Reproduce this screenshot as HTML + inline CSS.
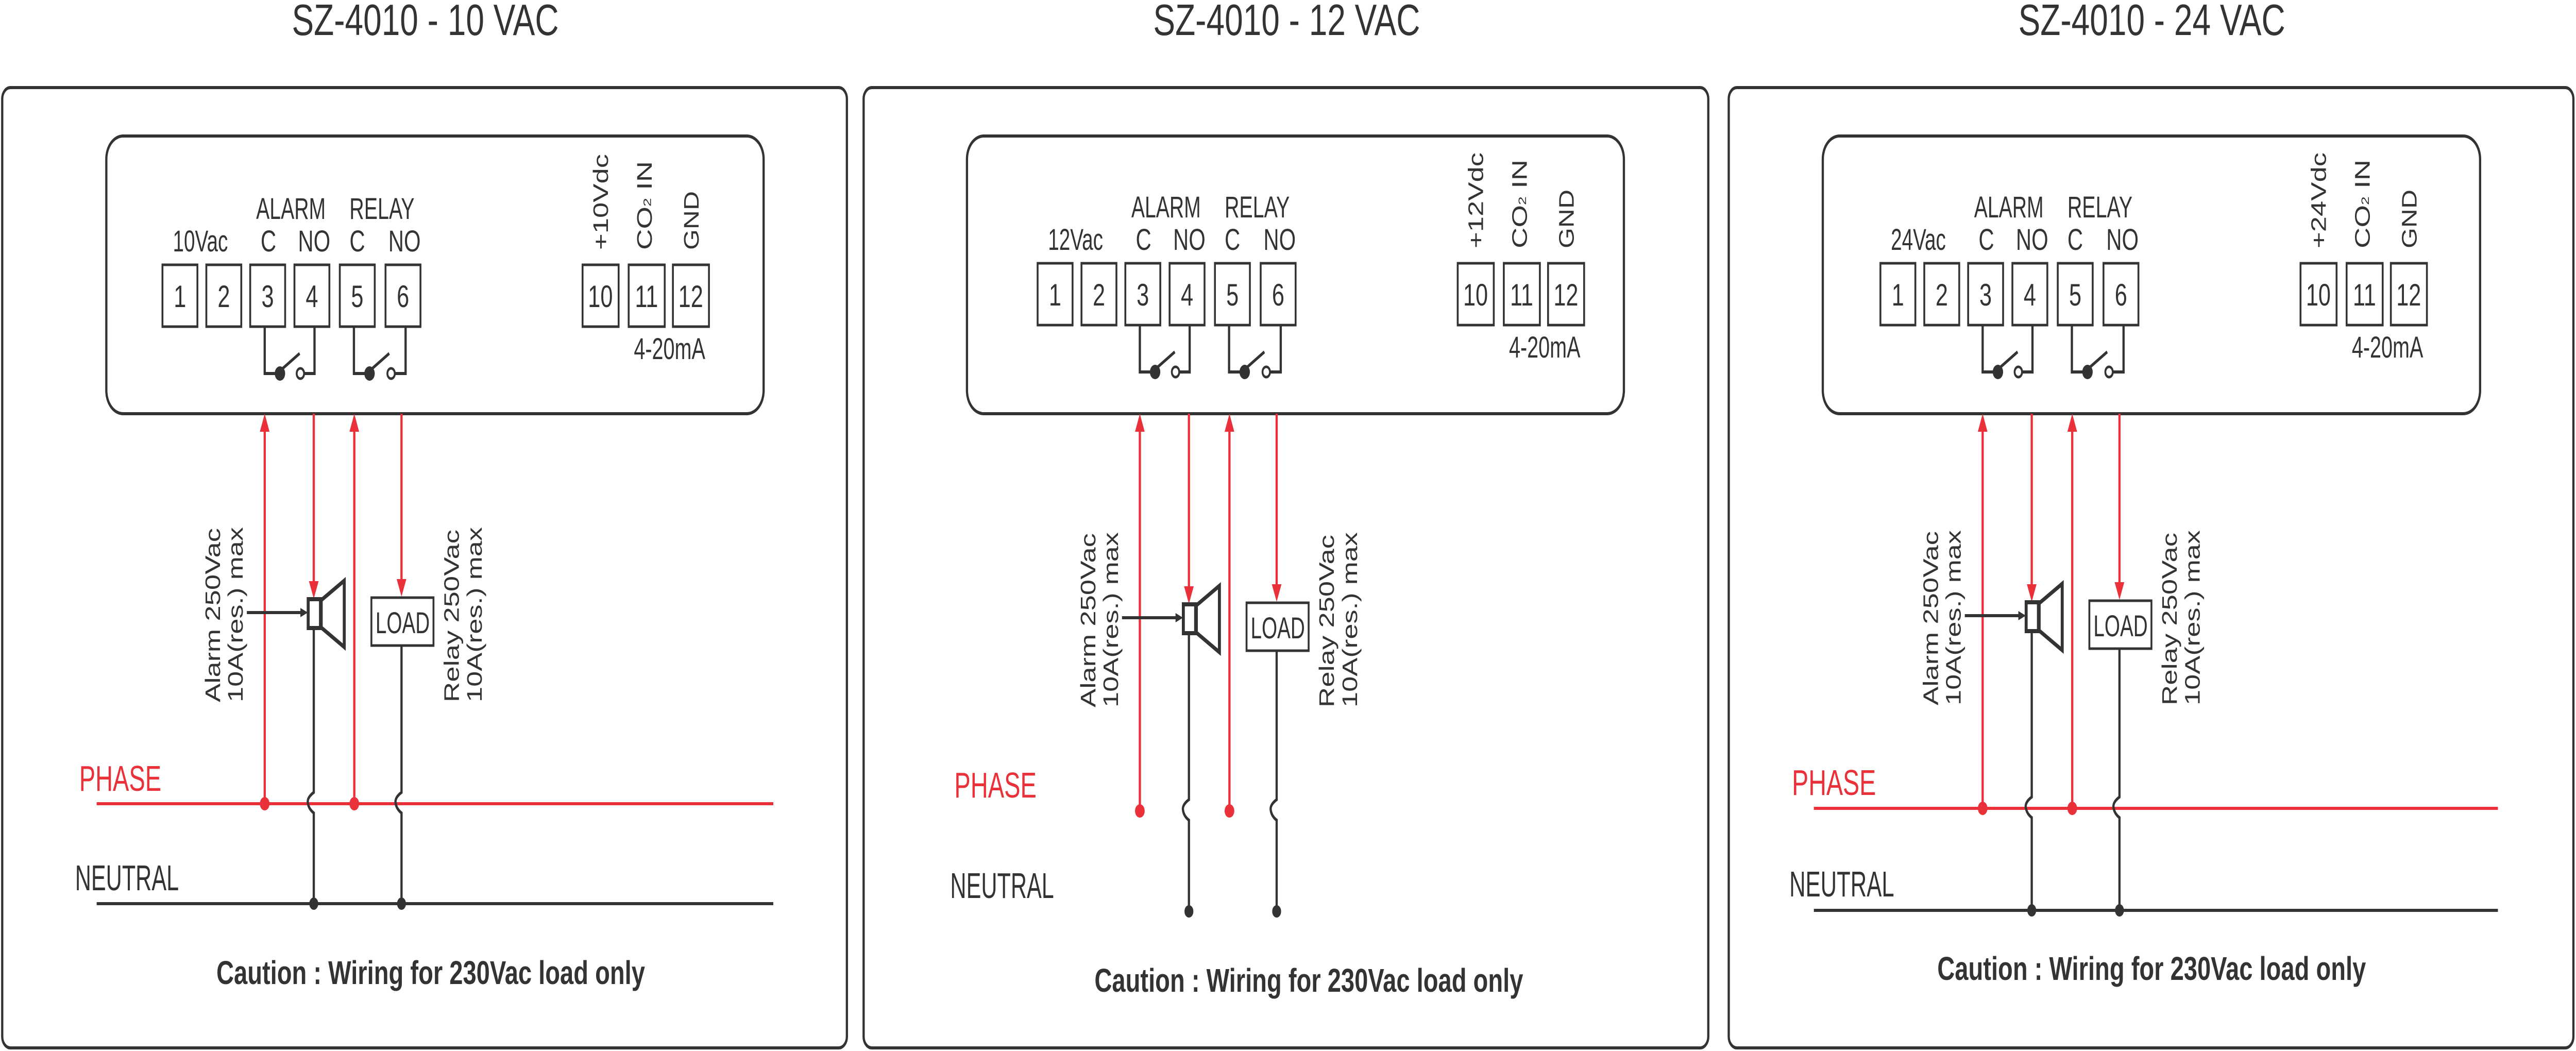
<!DOCTYPE html>
<html><head><meta charset="utf-8">
<style>
html,body{margin:0;padding:0;background:#fff;width:100vw;height:100vh;overflow:hidden;}
svg{display:block;position:absolute;left:0;top:0;width:100vw;height:100vh;}
text{font-family:"Liberation Sans",sans-serif;fill:#333;}
</style></head>
<body>
<svg viewBox="0 0 6929 2040" preserveAspectRatio="none" xmlns="http://www.w3.org/2000/svg">
<defs>
<style>
.bx{fill:none;stroke:#333;stroke-width:6}
.tm{fill:#fff;stroke:#333;stroke-width:5}
.bk{fill:none;stroke:#333;stroke-width:6}
.rd{fill:none;stroke:#ea3038;stroke-width:6}
.n{font-size:60px;text-anchor:middle}
.l{font-size:58px}
.v{font-size:56px}
</style>
</defs>

<!-- ================= PANEL 1 ================= -->
<g>
<rect class="bx" x="6" y="170" width="2272" height="1864" rx="22"/>
<text x="785" y="68" font-size="85" textLength="718" lengthAdjust="spacingAndGlyphs">SZ-4010  - 10 VAC</text>
</g>
<g transform="translate(0,0)">
<rect class="bx" x="286" y="264" width="1768" height="539" rx="45"/>
<rect class="tm" x="437" y="514" width="94" height="120"/><text class="n" x="484" y="596">1</text>
<rect class="tm" x="555" y="514" width="94" height="120"/><text class="n" x="602" y="596">2</text>
<rect class="tm" x="673" y="514" width="94" height="120"/><text class="n" x="720" y="596">3</text>
<rect class="tm" x="792" y="514" width="94" height="120"/><text class="n" x="839" y="596">4</text>
<rect class="tm" x="914" y="514" width="94" height="120"/><text class="n" x="961" y="596">5</text>
<rect class="tm" x="1037" y="514" width="94" height="120"/><text class="n" x="1084" y="596">6</text>
<rect class="tm" x="1567" y="514" width="97" height="120"/><text class="n" x="1615" y="596">10</text>
<rect class="tm" x="1691" y="514" width="97" height="120"/><text class="n" x="1739" y="596">11</text>
<rect class="tm" x="1810" y="514" width="97" height="120"/><text class="n" x="1858" y="596">12</text>
<text class="l" x="465" y="488" textLength="148" lengthAdjust="spacingAndGlyphs">10Vac</text>
<text class="l" x="689" y="425" textLength="187" lengthAdjust="spacingAndGlyphs">ALARM</text>
<text class="l" x="940" y="425" textLength="175" lengthAdjust="spacingAndGlyphs">RELAY</text>
<text class="l" x="722" y="488" text-anchor="middle">C</text>
<text class="l" x="845" y="488" text-anchor="middle">NO</text>
<text class="l" x="961" y="488" text-anchor="middle">C</text>
<text class="l" x="1088" y="488" text-anchor="middle">NO</text>
<text class="v" transform="translate(1635,485) rotate(-90)" textLength="186" lengthAdjust="spacingAndGlyphs">+10Vdc</text>
<text class="v" transform="translate(1753,485) rotate(-90)">CO<tspan font-size="30" dy="-2">2</tspan><tspan dy="2"> IN</tspan></text>
<text class="v" transform="translate(1879,485) rotate(-90)" textLength="114" lengthAdjust="spacingAndGlyphs">GND</text>
<text class="l" x="1705" y="697" textLength="192" lengthAdjust="spacingAndGlyphs">4-20mA</text>
<path class="bk" d="M712 634 V725 H752 M808 725 H846 V634 M756 718 L806 686"/>
<circle cx="753" cy="725" r="14" fill="#333"/><circle cx="808" cy="725" r="10" fill="#fff" stroke="#333" stroke-width="5"/>
<path class="bk" d="M952 634 V725 H993 M1052 725 H1091 V634 M997 718 L1047 686"/>
<circle cx="994" cy="725" r="14" fill="#333"/><circle cx="1052" cy="725" r="10" fill="#fff" stroke="#333" stroke-width="5"/>
</g>
<g transform="translate(0,0)">
<path class="rd" d="M712 830 V1560 M844 803 V1135 M953 830 V1560 M1080 803 V1130"/>
<polygon fill="#ea3038" points="712,803 699,838 725,838"/>
<polygon fill="#ea3038" points="953,803 940,838 966,838"/>
<polygon fill="#ea3038" points="844,1162 831,1128 857,1128"/>
<polygon fill="#ea3038" points="1080,1158 1067,1124 1093,1124"/>
<rect x="829" y="1163" width="33" height="56" fill="#fff" stroke="#333" stroke-width="8"/>
<polygon points="864,1165 926,1127 926,1256 864,1218" fill="none" stroke="#333" stroke-width="8"/>
<rect x="999" y="1160" width="167" height="93" class="tm"/>
<text class="l" x="1010" y="1229" textLength="146" lengthAdjust="spacingAndGlyphs">LOAD</text>
<path class="bk" d="M664 1189 H812"/><polygon fill="#333" points="828,1189 808,1180 808,1198"/>
<text class="v" transform="translate(592,1363) rotate(-90)" textLength="338" lengthAdjust="spacingAndGlyphs">Alarm 250Vac</text>
<text class="v" transform="translate(653,1363) rotate(-90)" textLength="340" lengthAdjust="spacingAndGlyphs">10A(res.) max</text>
<text class="v" transform="translate(1234,1363) rotate(-90)" textLength="335" lengthAdjust="spacingAndGlyphs">Relay 250Vac</text>
<text class="v" transform="translate(1296,1363) rotate(-90)" textLength="340" lengthAdjust="spacingAndGlyphs">10A(res.) max</text>
<path class="rd" d="M260 1560 H2080"/>
<circle cx="712" cy="1560" r="13" fill="#ea3038"/><circle cx="953" cy="1560" r="13" fill="#ea3038"/>
<path class="bk" d="M844 1219 V1538 Q826 1548 828 1558 Q830 1570 844 1578 V1754 M1080 1253 V1538 Q1062 1548 1064 1558 Q1066 1570 1080 1578 V1754"/>
<path class="bk" d="M260 1754 H2080"/>
<circle cx="844" cy="1754" r="12" fill="#333"/><circle cx="1080" cy="1754" r="12" fill="#333"/>
<text x="213" y="1535" font-size="70" style="fill:#ea3038" textLength="221" lengthAdjust="spacingAndGlyphs">PHASE</text>
<text x="202" y="1728" font-size="70" textLength="279" lengthAdjust="spacingAndGlyphs">NEUTRAL</text>
<text x="582" y="1910" font-size="64" font-weight="bold" textLength="1153" lengthAdjust="spacingAndGlyphs">Caution : Wiring for 230Vac load only</text>
</g>

<!-- ================= PANEL 2 ================= -->
<g transform="translate(2317,0)">
<rect class="bx" x="6" y="170" width="2272" height="1864" rx="22"/>
<text x="785" y="68" font-size="85" textLength="718" lengthAdjust="spacingAndGlyphs">SZ-4010  - 12 VAC</text>
</g>
<rect class="bx" x="2601" y="264" width="1767" height="539" rx="45"/>
<g transform="translate(2354,-3)">
<rect class="tm" x="437" y="514" width="94" height="120"/><text class="n" x="484" y="596">1</text>
<rect class="tm" x="555" y="514" width="94" height="120"/><text class="n" x="602" y="596">2</text>
<rect class="tm" x="673" y="514" width="94" height="120"/><text class="n" x="720" y="596">3</text>
<rect class="tm" x="792" y="514" width="94" height="120"/><text class="n" x="839" y="596">4</text>
<rect class="tm" x="914" y="514" width="94" height="120"/><text class="n" x="961" y="596">5</text>
<rect class="tm" x="1037" y="514" width="94" height="120"/><text class="n" x="1084" y="596">6</text>
<rect class="tm" x="1567" y="514" width="97" height="120"/><text class="n" x="1615" y="596">10</text>
<rect class="tm" x="1691" y="514" width="97" height="120"/><text class="n" x="1739" y="596">11</text>
<rect class="tm" x="1810" y="514" width="97" height="120"/><text class="n" x="1858" y="596">12</text>
<text class="l" x="465" y="488" textLength="148" lengthAdjust="spacingAndGlyphs">12Vac</text>
<text class="l" x="689" y="425" textLength="187" lengthAdjust="spacingAndGlyphs">ALARM</text>
<text class="l" x="940" y="425" textLength="175" lengthAdjust="spacingAndGlyphs">RELAY</text>
<text class="l" x="722" y="488" text-anchor="middle">C</text>
<text class="l" x="845" y="488" text-anchor="middle">NO</text>
<text class="l" x="961" y="488" text-anchor="middle">C</text>
<text class="l" x="1088" y="488" text-anchor="middle">NO</text>
<text class="v" transform="translate(1635,485) rotate(-90)" textLength="186" lengthAdjust="spacingAndGlyphs">+12Vdc</text>
<text class="v" transform="translate(1753,485) rotate(-90)">CO<tspan font-size="30" dy="-2">2</tspan><tspan dy="2"> IN</tspan></text>
<text class="v" transform="translate(1879,485) rotate(-90)" textLength="114" lengthAdjust="spacingAndGlyphs">GND</text>
<text class="l" x="1705" y="697" textLength="192" lengthAdjust="spacingAndGlyphs">4-20mA</text>
<path class="bk" d="M712 634 V725 H752 M808 725 H846 V634 M756 718 L806 686"/>
<circle cx="753" cy="725" r="14" fill="#333"/><circle cx="808" cy="725" r="10" fill="#fff" stroke="#333" stroke-width="5"/>
<path class="bk" d="M952 634 V725 H993 M1052 725 H1091 V634 M997 718 L1047 686"/>
<circle cx="994" cy="725" r="14" fill="#333"/><circle cx="1052" cy="725" r="10" fill="#fff" stroke="#333" stroke-width="5"/>
</g>
<g transform="translate(2354,10)">
<path class="rd" d="M712 820 V1564 M844 793 V1135 M953 820 V1564 M1080 793 V1130"/>
<polygon fill="#ea3038" points="712,793 699,828 725,828"/>
<polygon fill="#ea3038" points="953,793 940,828 966,828"/>
<polygon fill="#ea3038" points="844,1162 831,1128 857,1128"/>
<polygon fill="#ea3038" points="1080,1158 1067,1124 1093,1124"/>
<rect x="829" y="1163" width="33" height="56" fill="#fff" stroke="#333" stroke-width="8"/>
<polygon points="864,1165 926,1127 926,1256 864,1218" fill="none" stroke="#333" stroke-width="8"/>
<rect x="999" y="1160" width="167" height="93" class="tm"/>
<text class="l" x="1010" y="1229" textLength="146" lengthAdjust="spacingAndGlyphs">LOAD</text>
<path class="bk" d="M664 1189 H812"/><polygon fill="#333" points="828,1189 808,1180 808,1198"/>
<text class="v" transform="translate(592,1363) rotate(-90)" textLength="338" lengthAdjust="spacingAndGlyphs">Alarm 250Vac</text>
<text class="v" transform="translate(653,1363) rotate(-90)" textLength="340" lengthAdjust="spacingAndGlyphs">10A(res.) max</text>
<text class="v" transform="translate(1234,1363) rotate(-90)" textLength="335" lengthAdjust="spacingAndGlyphs">Relay 250Vac</text>
<text class="v" transform="translate(1296,1363) rotate(-90)" textLength="340" lengthAdjust="spacingAndGlyphs">10A(res.) max</text>
<circle cx="712" cy="1564" r="13" fill="#ea3038"/><circle cx="953" cy="1564" r="13" fill="#ea3038"/>
<path class="bk" d="M844 1219 V1542 Q826 1552 828 1562 Q830 1574 844 1582 V1759 M1080 1253 V1542 Q1062 1552 1064 1562 Q1066 1574 1080 1582 V1759"/>
<circle cx="844" cy="1759" r="12" fill="#333"/><circle cx="1080" cy="1759" r="12" fill="#333"/>
<text x="213" y="1538" font-size="70" style="fill:#ea3038" textLength="221" lengthAdjust="spacingAndGlyphs">PHASE</text>
<text x="202" y="1733" font-size="70" textLength="279" lengthAdjust="spacingAndGlyphs">NEUTRAL</text>
<text x="590" y="1915" font-size="64" font-weight="bold" textLength="1153" lengthAdjust="spacingAndGlyphs">Caution : Wiring for 230Vac load only</text>
</g>

<!-- ================= PANEL 3 ================= -->
<g transform="translate(4644,0)">
<rect class="bx" x="6" y="170" width="2272" height="1864" rx="22"/>
<text x="785" y="68" font-size="85" textLength="718" lengthAdjust="spacingAndGlyphs">SZ-4010  - 24 VAC</text>
</g>
<rect class="bx" x="4903" y="264" width="1768" height="539" rx="45"/>
<g transform="translate(4621,-3)">
<rect class="tm" x="437" y="514" width="94" height="120"/><text class="n" x="484" y="596">1</text>
<rect class="tm" x="555" y="514" width="94" height="120"/><text class="n" x="602" y="596">2</text>
<rect class="tm" x="673" y="514" width="94" height="120"/><text class="n" x="720" y="596">3</text>
<rect class="tm" x="792" y="514" width="94" height="120"/><text class="n" x="839" y="596">4</text>
<rect class="tm" x="914" y="514" width="94" height="120"/><text class="n" x="961" y="596">5</text>
<rect class="tm" x="1037" y="514" width="94" height="120"/><text class="n" x="1084" y="596">6</text>
<rect class="tm" x="1567" y="514" width="97" height="120"/><text class="n" x="1615" y="596">10</text>
<rect class="tm" x="1691" y="514" width="97" height="120"/><text class="n" x="1739" y="596">11</text>
<rect class="tm" x="1810" y="514" width="97" height="120"/><text class="n" x="1858" y="596">12</text>
<text class="l" x="465" y="488" textLength="148" lengthAdjust="spacingAndGlyphs">24Vac</text>
<text class="l" x="689" y="425" textLength="187" lengthAdjust="spacingAndGlyphs">ALARM</text>
<text class="l" x="940" y="425" textLength="175" lengthAdjust="spacingAndGlyphs">RELAY</text>
<text class="l" x="722" y="488" text-anchor="middle">C</text>
<text class="l" x="845" y="488" text-anchor="middle">NO</text>
<text class="l" x="961" y="488" text-anchor="middle">C</text>
<text class="l" x="1088" y="488" text-anchor="middle">NO</text>
<text class="v" transform="translate(1635,485) rotate(-90)" textLength="186" lengthAdjust="spacingAndGlyphs">+24Vdc</text>
<text class="v" transform="translate(1753,485) rotate(-90)">CO<tspan font-size="30" dy="-2">2</tspan><tspan dy="2"> IN</tspan></text>
<text class="v" transform="translate(1879,485) rotate(-90)" textLength="114" lengthAdjust="spacingAndGlyphs">GND</text>
<text class="l" x="1705" y="697" textLength="192" lengthAdjust="spacingAndGlyphs">4-20mA</text>
<path class="bk" d="M712 634 V725 H752 M808 725 H846 V634 M756 718 L806 686"/>
<circle cx="753" cy="725" r="14" fill="#333"/><circle cx="808" cy="725" r="10" fill="#fff" stroke="#333" stroke-width="5"/>
<path class="bk" d="M952 634 V725 H993 M1052 725 H1091 V634 M997 718 L1047 686"/>
<circle cx="994" cy="725" r="14" fill="#333"/><circle cx="1052" cy="725" r="10" fill="#fff" stroke="#333" stroke-width="5"/>
</g>
<g transform="translate(4621,6)">
<path class="rd" d="M712 824 V1563 M844 797 V1135 M953 824 V1563 M1080 797 V1130"/>
<polygon fill="#ea3038" points="712,797 699,832 725,832"/>
<polygon fill="#ea3038" points="953,797 940,832 966,832"/>
<polygon fill="#ea3038" points="844,1162 831,1128 857,1128"/>
<polygon fill="#ea3038" points="1080,1158 1067,1124 1093,1124"/>
<rect x="829" y="1163" width="33" height="56" fill="#fff" stroke="#333" stroke-width="8"/>
<polygon points="864,1165 926,1127 926,1256 864,1218" fill="none" stroke="#333" stroke-width="8"/>
<rect x="999" y="1160" width="167" height="93" class="tm"/>
<text class="l" x="1010" y="1229" textLength="146" lengthAdjust="spacingAndGlyphs">LOAD</text>
<path class="bk" d="M664 1189 H812"/><polygon fill="#333" points="828,1189 808,1180 808,1198"/>
<text class="v" transform="translate(592,1363) rotate(-90)" textLength="338" lengthAdjust="spacingAndGlyphs">Alarm 250Vac</text>
<text class="v" transform="translate(653,1363) rotate(-90)" textLength="340" lengthAdjust="spacingAndGlyphs">10A(res.) max</text>
<text class="v" transform="translate(1234,1363) rotate(-90)" textLength="335" lengthAdjust="spacingAndGlyphs">Relay 250Vac</text>
<text class="v" transform="translate(1296,1363) rotate(-90)" textLength="340" lengthAdjust="spacingAndGlyphs">10A(res.) max</text>
<path class="rd" d="M258 1563 H2098"/>
<circle cx="712" cy="1563" r="13" fill="#ea3038"/><circle cx="953" cy="1563" r="13" fill="#ea3038"/>
<path class="bk" d="M844 1219 V1541 Q826 1551 828 1561 Q830 1573 844 1581 V1761 M1080 1253 V1541 Q1062 1551 1064 1561 Q1066 1573 1080 1581 V1761"/>
<path class="bk" d="M258 1761 H2098"/>
<circle cx="844" cy="1761" r="12" fill="#333"/><circle cx="1080" cy="1761" r="12" fill="#333"/>
<text x="199" y="1537" font-size="70" style="fill:#ea3038" textLength="226" lengthAdjust="spacingAndGlyphs">PHASE</text>
<text x="192" y="1734" font-size="70" textLength="282" lengthAdjust="spacingAndGlyphs">NEUTRAL</text>
<text x="590" y="1896" font-size="64" font-weight="bold" textLength="1153" lengthAdjust="spacingAndGlyphs">Caution : Wiring for 230Vac load only</text>
</g>
</svg>
</body></html>
